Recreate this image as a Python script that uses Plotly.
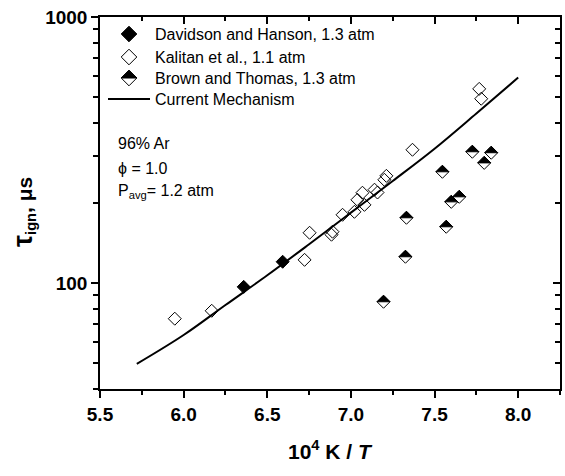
import plotly.graph_objects as go

# Ignition delay data, 10^4 K / T versus tau_ign (microseconds)
davidson_x = [6.359, 6.592]
davidson_y = [96.8, 120.3]

kalitan_x = [5.947, 6.168, 6.723, 6.753, 6.884, 6.890, 6.950, 7.021, 7.039, 7.069,
             7.081, 7.141, 7.159, 7.200, 7.212, 7.368, 7.767, 7.779]
kalitan_y = [73.5, 78.7, 122.3, 154.6, 152.0, 156.0, 180.6, 185.3, 205.6, 218.6,
             196.8, 224.4, 219.0, 244.5, 253.0, 317.0, 537.0, 493.0]

brown_x = [7.195, 7.326, 7.332, 7.547, 7.570, 7.600, 7.648, 7.726, 7.797, 7.839]
brown_y = [85.1, 125.6, 176.0, 262.0, 162.8, 202.0, 211.0, 311.6, 283.0, 309.0]

mech_x = [5.72, 6.0, 6.25, 6.5, 6.75, 7.0, 7.25, 7.5, 7.75, 8.0]
mech_y = [49.7, 63.8, 82.7, 107.0, 140.0, 184.0, 242.0, 320.0, 434.0, 592.0]

legend_names = ["Davidson and Hanson, 1.3 atm", "Kalitan et al., 1.1 atm",
                "Brown and Thomas, 1.3 atm", "Current Mechanism"]
condition_lines = ["96% Ar", "ϕ = 1.0", "P<sub>avg</sub>= 1.2 atm"]

x_major = [5.5, 6.0, 6.5, 7.0, 7.5, 8.0]
x_minor = [5.75, 6.25, 6.75, 7.25, 7.75, 8.25]
y_major = [100, 1000]
y_minor = [40, 50, 60, 70, 80, 90, 200, 300, 400, 500, 600, 700, 800, 900]

FONT = "Arial, Liberation Sans, sans-serif"
W, H = 565, 476
L, R, T, B = 100, 5, 17, 87

fig = go.Figure()

fig.add_trace(go.Scatter(x=mech_x, y=mech_y, mode="lines",
                         line=dict(color="black", width=2, shape="spline"),
                         hoverinfo="skip"))
fig.add_trace(go.Scatter(x=kalitan_x, y=kalitan_y, mode="markers",
                         marker=dict(symbol="diamond-open", size=10, color="black",
                                     line=dict(width=1))))
fig.add_trace(go.Scatter(x=brown_x, y=brown_y, mode="markers",
                         marker=dict(symbol="diamond", size=10, color="white",
                                     line=dict(color="black", width=1))))
fig.add_trace(go.Scatter(x=davidson_x, y=davidson_y, mode="markers",
                         marker=dict(symbol="diamond", size=10, color="black",
                                     line=dict(color="black", width=1))))

# Invisible trace so the mirrored top/right axes are drawn
fig.add_trace(go.Scatter(x=[6.0], y=[100], xaxis="x2", yaxis="y2", mode="markers",
                         marker=dict(opacity=0), hoverinfo="skip"))

# Black upper halves of the Brown and Thomas diamonds
half = 6.5
shapes = []
for bx, by in zip(brown_x, brown_y):
    shapes.append(dict(type="path", xref="x", yref="y", xsizemode="pixel", ysizemode="pixel",
                       xanchor=bx, yanchor=by,
                       path=f"M {-half},0 L 0,{half} L {half},0 Z",
                       fillcolor="black", line=dict(color="black", width=1), layer="above"))

# Key drawn in a pixel-scaled overlay axis pair
key_x = 129
key_y = [34, 57, 78, 99]
fig.add_trace(go.Scatter(x=[key_x], y=[key_y[0]], xaxis="x3", yaxis="y3", mode="markers",
                         marker=dict(symbol="diamond", size=12, color="black",
                                     line=dict(color="black", width=1))))
fig.add_trace(go.Scatter(x=[key_x], y=[key_y[1]], xaxis="x3", yaxis="y3", mode="markers",
                         marker=dict(symbol="diamond-open", size=12, color="black",
                                     line=dict(width=1))))
fig.add_trace(go.Scatter(x=[key_x], y=[key_y[2]], xaxis="x3", yaxis="y3", mode="markers",
                         marker=dict(symbol="diamond", size=12, color="white",
                                     line=dict(color="black", width=1))))
fig.add_trace(go.Scatter(x=[108, 150], y=[key_y[3], key_y[3]], xaxis="x3", yaxis="y3",
                         mode="lines", line=dict(color="black", width=2)))
kh = 7.8
shapes.append(dict(type="path", xref="x3", yref="y3", xsizemode="pixel", ysizemode="pixel",
                   xanchor=key_x, yanchor=key_y[2],
                   path=f"M {-kh},0 L 0,{kh} L {kh},0 Z",
                   fillcolor="black", line=dict(color="black", width=1), layer="above"))

annotations = []
for name, ky in zip(legend_names, key_y):
    annotations.append(dict(text=name, x=153, y=ky, xref="x3", yref="y3",
                            xanchor="left", yanchor="middle", showarrow=False,
                            font=dict(family=FONT, size=16, color="black")))
for line, cy in zip(condition_lines, [143, 168, 191]):
    annotations.append(dict(text=line, x=116, y=cy, xref="x3", yref="y3",
                            xanchor="left", yanchor="middle", showarrow=False,
                            font=dict(family=FONT, size=16, color="black")))

# Axis titles
annotations.append(dict(text="<b>10<sup>4</sup> K / <i>T</i></b>", x=0.5, y=-(450 - (H - B)) / (H - T - B),
                        xref="paper", yref="paper", xanchor="center", yanchor="middle",
                        showarrow=False, font=dict(family=FONT, size=21, color="black")))
annotations.append(dict(text='<b><span style="font-size:27px">τ</span><sub>ign</sub>, μs</b>',
                        x=-(L - 23) / (W - L - R), y=((H - B) - 212) / (H - T - B),
                        xref="paper", yref="paper",
                        xanchor="center", yanchor="middle", textangle=-90, showarrow=False,
                        font=dict(family=FONT, size=21, color="black")))

axis_common = dict(showgrid=False, zeroline=False, showline=True, linecolor="black",
                   linewidth=1.5, tickcolor="black", tickwidth=1.5)
tickfont = dict(family=FONT, size=19, color="black", weight="bold")

fig.update_layout(
    width=W, height=H, margin=dict(l=L, r=R, t=T, b=B),
    template="none", plot_bgcolor="white", paper_bgcolor="white",
    showlegend=False, shapes=shapes, annotations=annotations,
    xaxis=dict(range=[5.5, 8.25], tickvals=x_major, ticktext=[f"{v:.1f}" for v in x_major],
               ticks="outside", ticklen=7, tickfont=tickfont,
               minor=dict(tickvals=x_minor, ticks="outside", ticklen=4, tickwidth=1.5,
                          tickcolor="black", showgrid=False),
               **axis_common),
    yaxis=dict(type="log", range=[1.60206, 3], tickvals=y_major, ticktext=["100", "1000"],
               ticks="outside", ticklen=7, tickfont=tickfont,
               minor=dict(tickvals=y_minor, ticks="outside", ticklen=5, tickwidth=1.5,
                          tickcolor="black", showgrid=False),
               **axis_common),
    xaxis2=dict(range=[5.5, 8.25], overlaying="x", side="top", anchor="y2",
                tickvals=x_major, showticklabels=False, ticks="inside", ticklen=7,
                minor=dict(tickvals=x_minor, ticks="inside", ticklen=4, tickwidth=1.5,
                           tickcolor="black", showgrid=False),
                **axis_common),
    yaxis2=dict(type="log", range=[1.60206, 3], overlaying="y", side="right", anchor="x2",
                tickvals=y_major, showticklabels=False, ticks="inside", ticklen=7,
                minor=dict(tickvals=y_minor, ticks="inside", ticklen=5, tickwidth=1.5,
                           tickcolor="black", showgrid=False),
                **axis_common),
    xaxis3=dict(range=[L, W - R], overlaying="x", anchor="y3", visible=False),
    yaxis3=dict(range=[H - B, T], overlaying="y", anchor="x3", visible=False),
)

fig.write_html("out.html")
